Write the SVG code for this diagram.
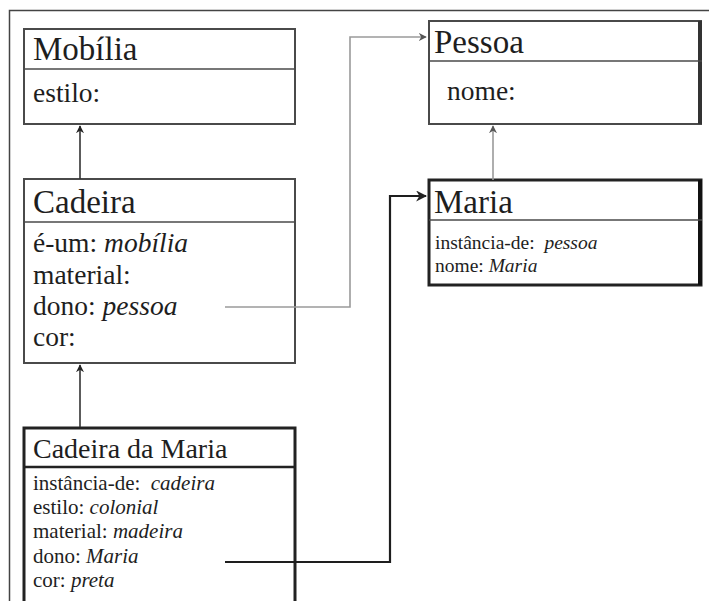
<svg xmlns="http://www.w3.org/2000/svg" width="709" height="601" viewBox="0 0 709 601">
  <style>
    .lbl { font-family: "Liberation Serif", "Times New Roman", "DejaVu Serif", serif; fill: #1e1e1e; }
    .title { font-size: 33px; }
    .attr { font-size: 27.5px; }
    .small { font-size: 21px; }
    .tiny { font-size: 19.5px; }
    .box { fill: #ffffff; stroke: #4a4a4a; stroke-width: 2; }
    .heavy { fill: #ffffff; stroke: #222222; stroke-width: 3; }
    .div { stroke: #4a4a4a; stroke-width: 1.5; }
    .divh { stroke: #222222; stroke-width: 2.5; }
    .edge { fill: none; stroke: #333333; stroke-width: 1.6; }
    .edge-light { fill: none; stroke: #9a9a9a; stroke-width: 1.6; }
    .edge-bold { fill: none; stroke: #1e1e1e; stroke-width: 2.2; }
    .it { font-style: italic; }
  </style>
  <defs>
    <marker id="arrDark" viewBox="0 0 10 10" refX="9" refY="5" markerWidth="5" markerHeight="5" orient="auto" markerUnits="strokeWidth">
      <path d="M0,0 L10,5 L0,10 L3,5 z" fill="#222222"/>
    </marker>
    <marker id="arrLight" viewBox="0 0 10 10" refX="9" refY="5" markerWidth="5" markerHeight="5" orient="auto" markerUnits="strokeWidth">
      <path d="M0,0 L10,5 L0,10 L3,5 z" fill="#555555"/>
    </marker>
  </defs>

  <rect x="0" y="0" width="709" height="601" fill="#ffffff"/>
  <!-- outer frame (left and top only) -->
  <path d="M9.5,601 V10.5 H709" fill="none" stroke="#444444" stroke-width="1.5"/>

  <g font-family="Liberation Serif, Times New Roman, DejaVu Serif, serif">
  <!-- Mobília -->
  <g id="mobilia">
    <rect class="box" x="24" y="29" width="271" height="95"/>
    <line class="div" x1="24" y1="69" x2="295" y2="69"/>
    <text class="lbl title" x="33" y="60">Mobília</text>
    <text class="lbl attr" x="33" y="102">estilo:</text>
  </g>

  <!-- Cadeira -->
  <g id="cadeira">
    <rect class="box" x="24" y="179" width="271" height="184"/>
    <line class="div" x1="24" y1="222" x2="295" y2="222"/>
    <text class="lbl title" x="33" y="213">Cadeira</text>
    <text class="lbl attr" x="33" y="252">é-um: <tspan class="it">mobília</tspan></text>
    <text class="lbl attr" x="33" y="284">material:</text>
    <text class="lbl attr" x="33" y="315">dono: <tspan class="it">pessoa</tspan></text>
    <text class="lbl attr" x="33" y="346">cor:</text>
  </g>

  <!-- Cadeira da Maria -->
  <g id="cadeira-da-maria">
    <rect class="heavy" x="24" y="428" width="271" height="190"/>
    <line class="divh" x1="24" y1="467" x2="295" y2="467"/>
    <text class="lbl title" x="33" y="458" style="font-size:28px">Cadeira da Maria</text>
    <text class="lbl small" x="33" y="490" xml:space="preserve">instância-de:  <tspan class="it">cadeira</tspan></text>
    <text class="lbl small" x="33" y="514">estilo: <tspan class="it">colonial</tspan></text>
    <text class="lbl small" x="33" y="538">material: <tspan class="it">madeira</tspan></text>
    <text class="lbl small" x="33" y="563">dono: <tspan class="it">Maria</tspan></text>
    <text class="lbl small" x="33" y="587">cor: <tspan class="it">preta</tspan></text>
  </g>

  <!-- Pessoa -->
  <g id="pessoa">
    <rect class="box" x="429" y="21" width="272" height="103"/>
    <line x1="700" y1="21" x2="700" y2="124" stroke="#333333" stroke-width="4"/>
    <line class="div" x1="429" y1="61" x2="702" y2="61"/>
    <text class="lbl title" x="434" y="53">Pessoa</text>
    <text class="lbl attr" x="447" y="100">nome:</text>
  </g>

  <!-- Maria -->
  <g id="maria">
    <rect class="heavy" x="429" y="180" width="272" height="105"/>
    <line x1="700" y1="180" x2="700" y2="285" stroke="#111111" stroke-width="4"/>
    <line class="div" x1="429" y1="220" x2="702" y2="220"/>
    <text class="lbl title" x="434" y="213">Maria</text>
    <text class="lbl tiny" x="435" y="249" xml:space="preserve">instância-de:  <tspan class="it">pessoa</tspan></text>
    <text class="lbl tiny" x="435" y="272">nome: <tspan class="it">Maria</tspan></text>
  </g>
  </g>

  <!-- connectors (drawn last so the lines show inside the boxes) -->
  <g id="connectors">
    <line class="edge" x1="80" y1="179" x2="80" y2="126" marker-end="url(#arrDark)"/>
    <line class="edge" x1="80" y1="427" x2="80" y2="365" marker-end="url(#arrDark)"/>
    <line class="edge-light" x1="493" y1="180" x2="493" y2="126" marker-end="url(#arrLight)"/>
    <polyline class="edge-light" points="225,307 350,307 350,37 426,37" marker-end="url(#arrLight)"/>
    <polyline class="edge-bold" points="225,562 390,562 390,196 426,196" marker-end="url(#arrDark)"/>
  </g>
</svg>
